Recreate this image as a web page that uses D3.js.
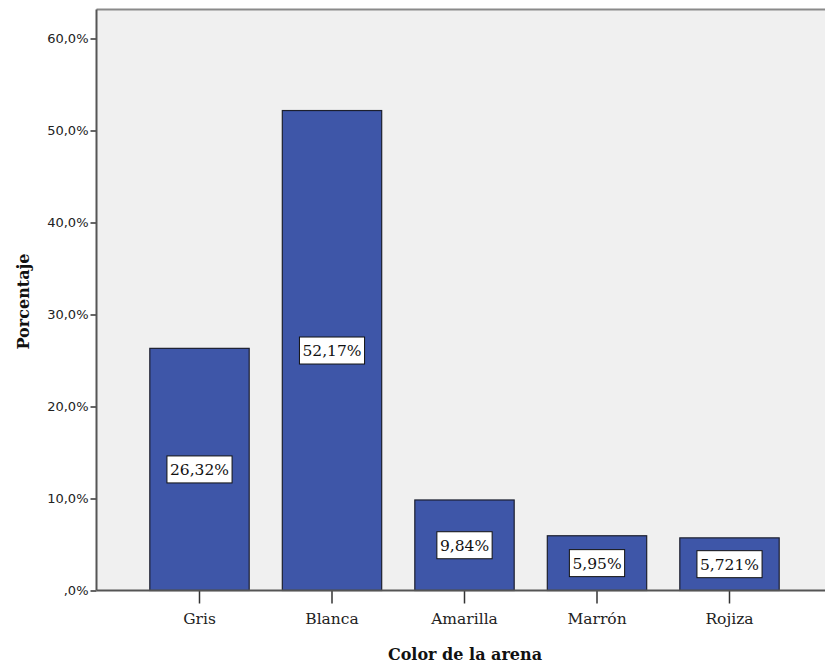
<!DOCTYPE html>
<html>
<head>
<meta charset="utf-8">
<script src="https://cdn.jsdelivr.net/npm/d3@7"></script>
<style>
  body { margin: 0; background: #ffffff; }
  svg { display: block; }
</style>
</head>
<body>
<svg id="chart" width="825" height="664"></svg>
<script>
// Sand colour distribution (percent of samples)
const categories = ["Gris", "Blanca", "Amarilla", "Marrón", "Rojiza"];
const percentages = [26.32, 52.17, 9.84, 5.95, 5.721];
const valueLabels = ["26,32%", "52,17%", "9,84%", "5,95%", "5,721%"];
const yTicks = [0, 10, 20, 30, 40, 50, 60];
const yTickLabels = [",0%", "10,0%", "20,0%", "30,0%", "40,0%", "50,0%", "60,0%"];

const serif = "'DejaVu Serif', 'Liberation Serif', serif";
const sans = "'DejaVu Sans', 'Liberation Sans', sans-serif";

const svg = d3.select("#chart");
const frame = { left: 96.5, top: 9.5, right: 825, bottom: 590.5 };

const x = d3.scaleBand()
  .domain(categories)
  .range([133.25, 795.75])
  .paddingInner(0.25)
  .paddingOuter(0.125);

const y = d3.scaleLinear()
  .domain([0, 60])
  .range([590.5, 38.5]);

// plot background
svg.append("rect")
  .attr("x", frame.left).attr("y", frame.top)
  .attr("width", frame.right - frame.left)
  .attr("height", frame.bottom - frame.top)
  .attr("fill", "#f0f0f0");

// top border
svg.append("line")
  .attr("x1", frame.left).attr("x2", frame.right)
  .attr("y1", frame.top).attr("y2", frame.top)
  .attr("stroke", "#8a8a8a").attr("stroke-width", 2);

// bars
svg.append("g").selectAll("rect")
  .data(percentages)
  .join("rect")
  .attr("x", (d, i) => x(categories[i]))
  .attr("y", d => y(d))
  .attr("width", x.bandwidth())
  .attr("height", d => y(0) - y(d))
  .attr("fill", "#3e56a8")
  .attr("stroke", "#1c1f2e")
  .attr("stroke-width", 1.2);

// value labels in boxes at the middle of each bar
const lbl = svg.append("g").selectAll("g")
  .data(percentages)
  .join("g")
  .attr("transform", (d, i) => `translate(${x(categories[i]) + x.bandwidth() / 2},${(y(d) + y(0)) / 2})`);

lbl.append("text")
  .attr("text-anchor", "middle")
  .attr("dy", "0.36em")
  .attr("font-family", serif)
  .attr("font-size", 15.5)
  .attr("fill", "#111")
  .text((d, i) => valueLabels[i]);

lbl.each(function () {
  const g = d3.select(this);
  const bb = g.select("text").node().getBBox();
  g.insert("rect", "text")
    .attr("x", bb.x - 3).attr("y", -13.5)
    .attr("width", bb.width + 6).attr("height", 27)
    .attr("fill", "#ffffff")
    .attr("stroke", "#111")
    .attr("stroke-width", 1);
});

// y axis
const yAxis = d3.axisLeft(y)
  .tickValues(yTicks)
  .tickFormat((d, i) => yTickLabels[i])
  .tickSize(6)
  .tickPadding(2);

const gy = svg.append("g")
  .attr("transform", `translate(${frame.left},0)`)
  .call(yAxis);
gy.select(".domain").remove();
gy.selectAll(".tick line").attr("stroke", "#333").attr("stroke-width", 1.5);
gy.selectAll(".tick text")
  .attr("font-family", sans)
  .attr("font-size", 13)
  .attr("fill", "#222");
svg.append("line")
  .attr("x1", frame.left).attr("x2", frame.left)
  .attr("y1", frame.top).attr("y2", frame.bottom)
  .attr("stroke", "#555").attr("stroke-width", 2);

// x axis
const xAxis = d3.axisBottom(x).tickSize(13).tickPadding(9);
const gx = svg.append("g")
  .attr("transform", `translate(0,${frame.bottom})`)
  .call(xAxis);
gx.select(".domain").remove();
gx.selectAll(".tick line").attr("stroke", "#333").attr("stroke-width", 1.5);
gx.selectAll(".tick text")
  .attr("font-family", serif)
  .attr("font-size", 15.5)
  .attr("fill", "#222");
svg.append("line")
  .attr("x1", frame.left).attr("x2", frame.right)
  .attr("y1", frame.bottom).attr("y2", frame.bottom)
  .attr("stroke", "#555").attr("stroke-width", 2);

// axis titles
svg.append("text")
  .attr("x", 465)
  .attr("y", 660)
  .attr("text-anchor", "middle")
  .attr("font-family", serif)
  .attr("font-weight", "bold")
  .attr("font-size", 16)
  .attr("fill", "#111")
  .text("Color de la arena");

svg.append("text")
  .attr("transform", "translate(29,301.5) rotate(-90)")
  .attr("text-anchor", "middle")
  .attr("font-family", serif)
  .attr("font-weight", "bold")
  .attr("font-size", 16)
  .attr("fill", "#111")
  .text("Porcentaje");
</script>
</body>
</html>
